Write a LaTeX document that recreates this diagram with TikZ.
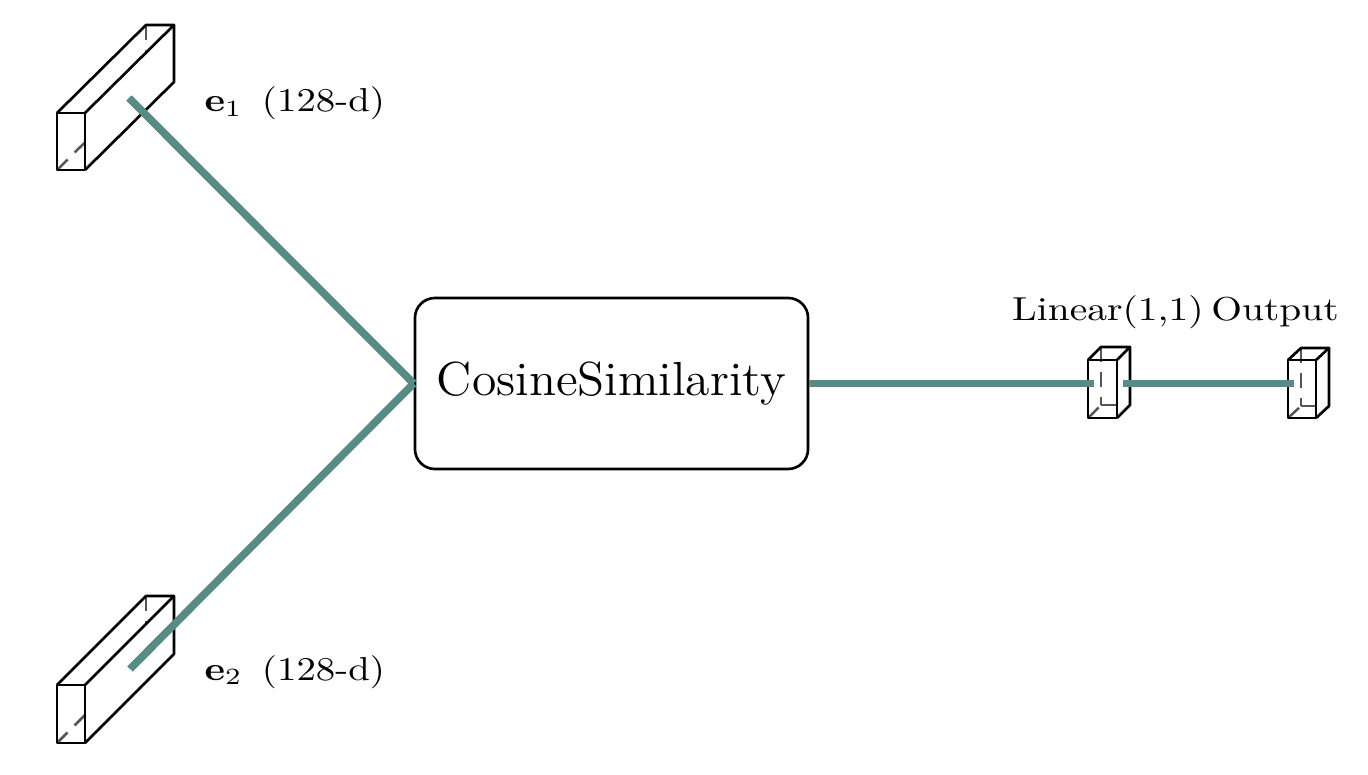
\documentclass[tikz,border=0pt]{standalone}
\usepackage{graphicx}
\definecolor{tealline}{RGB}{88,138,135}
\definecolor{hidgray}{RGB}{85,85,85}
\tikzset{
  conn/.style={draw=tealline, line width=2.3pt},
  edge/.style={draw=black, line width=0.8pt, line join=round},
  hid/.style={draw=hidgray, line width=0.75pt, dash pattern=on 4.5pt off 3pt},
  cosbox/.style={draw=black, line width=0.8pt, rounded corners=6pt, inner sep=0pt,
    minimum width=118.4pt, minimum height=51.5pt, font=\Large},
  lab/.style={inner sep=0pt, font=\normalsize}
}
% #1 front-top-left point, #2 width, #3 height, #4 depth dx, #5 depth dy (upwards)
\newcommand\drawcuboid[5]{%
  \begin{scope}[shift={#1}]
    \draw[hid] (#4,-#5) -- (#4,#3-#5);
    \draw[hid] (0,#3) -- (#4,#3-#5);
    \draw[hid] (#4,#3-#5) -- (#2+#4,#3-#5);
    \fill[white] (#2,0) -- (#2+#4,-#5) -- (#2+#4,#3-#5) -- (#2,#3) -- cycle;
    \draw[edge] (0,0) rectangle (#2,#3);
    \draw[edge] (0,0) -- (#4,-#5) -- (#2+#4,-#5) -- (#2,0);
    \draw[edge] (#2+#4,-#5) -- (#2+#4,#3-#5) -- (#2,#3);
  \end{scope}}
\begin{document}
\begin{tikzpicture}[x=0.3012pt, y=-0.3012pt]
\useasboundingbox (0,0) rectangle (1368,775);
% cuboids
\drawcuboid{(57,113)}{28}{57}{89}{88}
\drawcuboid{(57,685)}{28}{58}{89}{89}
\drawcuboid{(1088,360)}{29}{58}{13}{13}
\drawcuboid{(1288,360)}{28}{58}{13}{12}
% central block
\node[cosbox] (cos) at (611.5,383.5) {\scalebox{1.04}[1]{CosineSimilarity}};
% labels
\node[lab, anchor=base west] (lab1) at (204,112) {\scalebox{1.17}[1]{$\mathbf{e}_1$\hspace{0.5em}(128-d)}};
\node[lab, anchor=base west] (lab2) at (204,680) {\scalebox{1.17}[1]{$\mathbf{e}_2$\hspace{0.5em}(128-d)}};
\node[lab, anchor=base] (linlab) at (1108,321) {\scalebox{1.19}[1]{Linear(1,1)}};
\node[lab, anchor=base] (outlab) at (1275,321) {\scalebox{1.19}[1]{Output}};
% connector end points
\coordinate (e1c) at (129,98);
\coordinate (e2c) at (130,669);
\coordinate (linin) at (1094,383.5);
\coordinate (linout) at (1123,383.5);
\coordinate (outin) at (1294,383.5);
% connectors
\draw[conn] (e1c) -- (cos.west);
\draw[conn] (e2c) -- (cos.west);
\draw[conn] (cos.east) -- (linin);
\draw[conn] (linout) -- (outin);
\end{tikzpicture}
\end{document}
